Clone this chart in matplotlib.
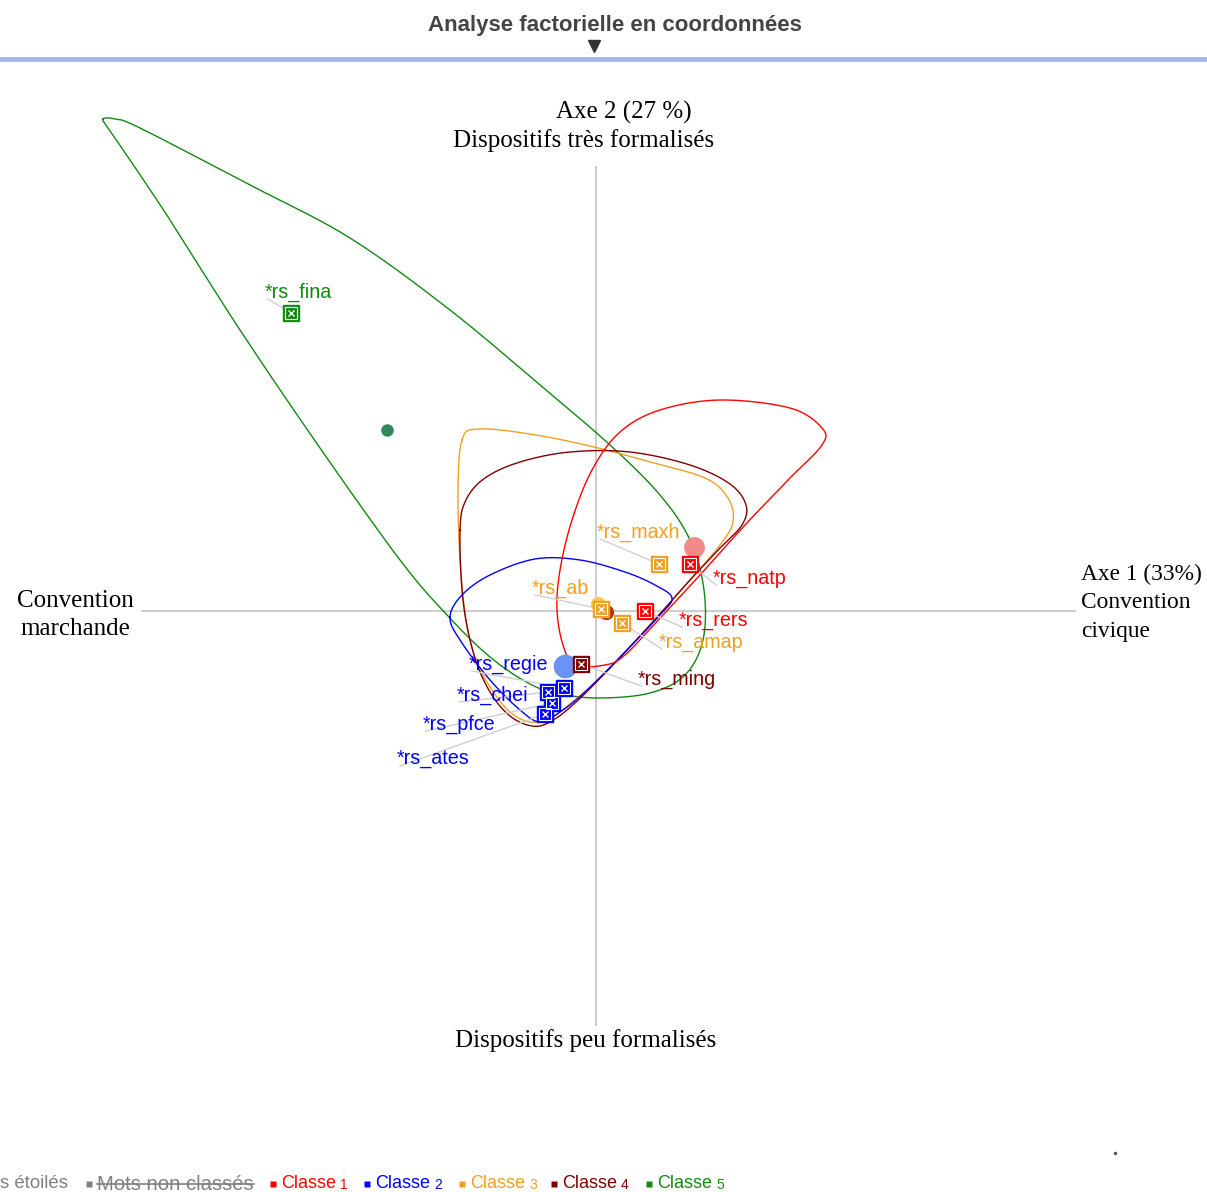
import numpy as np
import matplotlib
matplotlib.use("Agg")
import matplotlib.pyplot as plt
from matplotlib.lines import Line2D

W, H = 1207, 1192

# couleurs des classes
colors = {1: '#ff0000', 2: '#0000ff', 3: '#f0a020', 4: '#800000', 5: '#108a10'}
centroid_colors = ['#f28a8a', '#6a93f5', '#f7c860', '#a83a10', '#2e8b57']

# mots étoilés : coordonnées factorielles (axe 1, axe 2) et classe
words = ['*rs_fina', '*rs_maxh', '*rs_natp', '*rs_ab', '*rs_amap', '*rs_rers',
         '*rs_ming', '*rs_regie', '*rs_chei', '*rs_pfce', '*rs_ates']
word_class = [5, 3, 1, 3, 3, 1, 4, 2, 2, 2, 2]
word_x = [-3.05, 0.63, 0.94, 0.05, 0.26, 0.49, -0.15, -0.32, -0.48, -0.44, -0.51]
word_y = [2.98, 0.47, 0.47, 0.02, -0.12, 0.00, -0.53, -0.77, -0.81, -0.92, -1.03]
label_x = [-3.31, 0.01, 1.17, -0.64, 0.63, 0.83, 0.42, -1.27, -1.39, -1.73, -1.99]
label_y = [3.19, 0.79, 0.33, 0.23, -0.31, -0.09, -0.68, -0.53, -0.84, -1.13, -1.48]

# centres des classes 1..5
centroid_x = [0.98, -0.31, 0.02, 0.10, -2.09]
centroid_y = [0.64, -0.55, 0.07, -0.01, 1.81]
centroid_size = [15, 17, 11, 11, 9]

# enveloppes des classes (points de contrôle)
hull1 = [(-0.21, -0.54), (-0.33, -0.34), (-0.39, 0.01), (-0.36, 0.41), (-0.24, 0.91),
         (-0.04, 1.41), (0.24, 1.79), (0.64, 2.01), (1.24, 2.11), (1.94, 2.03),
         (2.26, 1.83), (2.26, 1.66), (1.94, 1.33), (1.49, 0.86), (1.04, 0.36),
         (0.64, -0.07), (0.29, -0.44), (0.09, -0.54)]
hull2 = [(-1.46, -0.06), (-1.34, 0.16), (-1.06, 0.36), (-0.61, 0.52), (-0.16, 0.51),
         (0.29, 0.39), (0.59, 0.26), (0.76, 0.13), (0.64, -0.04), (0.29, -0.41),
         (-0.11, -0.81), (-0.36, -1.01), (-0.56, -1.11), (-0.76, -0.99),
         (-1.06, -0.69), (-1.36, -0.29)]
hull3 = [(-1.34, 1.71), (-1.18, 1.82), (-0.66, 1.77), (-0.06, 1.65), (0.54, 1.49),
         (1.09, 1.33), (1.32, 1.13), (1.37, 0.89), (1.24, 0.66), (0.94, 0.31),
         (0.54, -0.14), (0.14, -0.57), (-0.21, -0.89), (-0.46, -1.07), (-0.66, -1.11),
         (-0.86, -1.01), (-1.04, -0.79), (-1.20, -0.49), (-1.30, -0.09), (-1.36, 0.51),
         (-1.38, 1.21)]
hull4 = [(-1.36, 0.81), (-1.30, 1.11), (-1.11, 1.33), (-0.76, 1.49), (-0.26, 1.59),
         (0.34, 1.59), (0.94, 1.46), (1.34, 1.27), (1.50, 1.06), (1.46, 0.86),
         (1.24, 0.63), (0.94, 0.31), (0.54, -0.14), (0.14, -0.57), (-0.21, -0.92),
         (-0.46, -1.11), (-0.64, -1.15), (-0.86, -1.05), (-1.06, -0.81), (-1.22, -0.44),
         (-1.33, 0.11)]
hull5 = [(-4.93, 4.92), (-4.81, 4.92), (-4.56, 4.83), (-3.46, 4.26), (-2.46, 3.73),
         (-1.46, 3.01), (-0.56, 2.26), (0.14, 1.66), (0.64, 1.16), (0.94, 0.71),
         (1.08, 0.21), (1.07, -0.29), (0.89, -0.64), (0.54, -0.82), (0.04, -0.87),
         (-0.36, -0.83), (-0.66, -0.73), (-1.06, -0.46), (-1.49, -0.04), (-1.96, 0.51),
         (-2.76, 1.63), (-3.56, 2.81), (-4.26, 3.91), (-4.66, 4.51), (-4.88, 4.83)]
hulls = {1: hull1, 2: hull2, 3: hull3, 4: hull4, 5: hull5}


def closed_spline(pts, n=30):
    # Catmull-Rom périodique pour lisser l'enveloppe
    p = np.array(pts)
    m = len(p)
    out = []
    for i in range(m):
        p0, p1, p2, p3 = p[i - 1], p[i], p[(i + 1) % m], p[(i + 2) % m]
        t = np.linspace(0, 1, n, endpoint=False)[:, None]
        seg = 0.5 * ((2 * p1) + (-p0 + p2) * t + (2 * p0 - 5 * p1 + 4 * p2 - p3) * t ** 2
                     + (-p0 + 3 * p1 - 3 * p2 + p3) * t ** 3)
        out.append(seg)
    out = np.vstack(out)
    return np.vstack([out, out[:1]])


plt.rcParams['font.family'] = ['Liberation Sans', 'DejaVu Sans']
fig = plt.figure(figsize=(W / 100, H / 100), dpi=100)
ax = fig.add_axes([0, 0, 1, 1])
ax.set_xlim(-5.96, 6.11)
ax.set_ylim(-5.81, 6.11)
ax.axis('off')

# axes factoriels
ax.plot([-4.54, 4.79], [0, 0], color='#c8c8c8', lw=1.3, zorder=1)
ax.plot([0, 0], [4.44, -4.14], color='#c8c8c8', lw=1.3, zorder=1)

# enveloppes
for k in [5, 3, 4, 2, 1]:
    c = closed_spline(hulls[k])
    ax.plot(c[:, 0], c[:, 1], color=colors[k], lw=1.0, zorder=2)

# centres des classes
for k in range(5):
    ax.plot(centroid_x[k], centroid_y[k], 'o', ms=centroid_size[k],
            color=centroid_colors[k], mec='none', zorder=3)

# mots étoilés : traits de rappel, carrés et étiquettes
for i, w in enumerate(words):
    col = colors[word_class[i]]
    ax.plot([label_x[i] + 0.03, word_x[i]], [label_y[i] - 0.07, word_y[i]],
            color='#cfcfcf', lw=1.0, zorder=2)
    ax.plot(word_x[i], word_y[i], 's', ms=12, mfc=col, mec=col, zorder=4)
    ax.plot(word_x[i], word_y[i], 's', ms=8, mfc='none', mec='white', mew=0.8, zorder=5)
    ax.plot(word_x[i], word_y[i], 'x', ms=5, color='white', mew=1.0, zorder=5)
    ax.text(label_x[i], label_y[i], w, color=col, fontsize=14.2, ha='left', va='center',
            zorder=6)

# libellés des axes
serif = ['Liberation Serif', 'DejaVu Serif']
fs = 18
ax.text(0.28, 4.99, 'Axe 2 (27 %)', family=serif, fontsize=fs, ha='center', va='center')
ax.text(-0.12, 4.70, 'Dispositifs très formalisés', family=serif, fontsize=fs,
        ha='center', va='center')
ax.text(-0.10, -4.30, 'Dispositifs peu formalisés', family=serif, fontsize=fs,
        ha='center', va='center')
ax.text(-5.21, 0.10, 'Convention', family=serif, fontsize=fs, ha='center', va='center')
ax.text(-5.21, -0.18, 'marchande', family=serif, fontsize=fs, ha='center', va='center')
ax.text(4.85, 0.37, 'Axe 1 (33%)', family=serif, fontsize=16.8, ha='left', va='center')
ax.text(4.85, 0.08, 'Convention', family=serif, fontsize=16.8, ha='left', va='center')
ax.text(4.85, -0.21, 'civique', family=serif, fontsize=16.8, ha='left', va='center')

# en-tête
fig.text(615 / W, 1 - 26 / H, 'Analyse factorielle en coordonnées', fontsize=16,
         fontweight='bold', color='#444444', ha='center', va='center')
fig.add_artist(Line2D([594 / W], [1 - 46 / H], marker='v', ms=8, color='#333333'))
fig.add_artist(Line2D([0, 1], [1 - 59 / H, 1 - 59 / H], color='#aab4f2', lw=3.5))

# légende
legend_items = [('s étoilés', '#808080', None, 0, 13.4),
                ('Mots non classés', '#808080', None, 97, 14.6),
                ('Classe', colors[1], '1', 281, 13), ('Classe', colors[2], '2', 375, 13),
                ('Classe', colors[3], '3', 470, 13), ('Classe', colors[4], '4', 562, 13),
                ('Classe', colors[5], '5', 657, 13)]
ly = 1 - 1184 / H
for name, col, num, x0, size in legend_items:
    fig.text(x0 / W, ly, name, fontsize=size, color=col, ha='left', va='center')
    if x0 > 0:
        fig.add_artist(Line2D([(x0 - 8) / W], [ly], marker='s', ms=4, color=col, mec='none'))
    if num is not None:
        fig.text((x0 + 59) / W, ly - 1 / H, num, fontsize=10, color=col, ha='left',
                 va='center')
fig.add_artist(Line2D([97 / W, 254 / W], [ly, ly], color='#808080', lw=1.2))
fig.add_artist(Line2D([1115 / W], [1 - 1153 / H], marker='o', ms=1.5, color='#555555'))

fig.savefig('out.png', dpi=100)
